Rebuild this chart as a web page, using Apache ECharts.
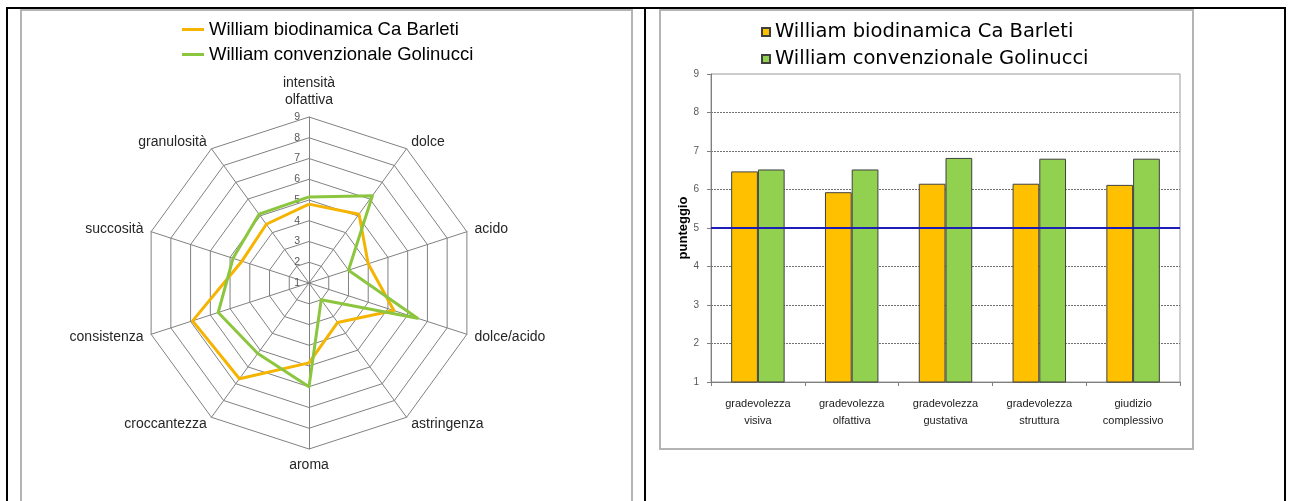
<!DOCTYPE html>
<html>
<head>
<meta charset="utf-8">
<script src="https://cdn.jsdelivr.net/npm/echarts@6/dist/echarts.min.js"></script>
<style>
html,body{margin:0;padding:0;background:#fff;}
#wrap{position:relative;width:1292px;height:501px;overflow:hidden;background:#fff;}
.ln{position:absolute;background:#000;}
.box{position:absolute;border:2px solid #B4B4B4;box-sizing:border-box;}
.chart{position:absolute;left:0;top:0;width:1292px;height:501px;}
</style>
</head>
<body>
<div id="wrap">
  <div class="box" style="left:20px;top:9px;width:613px;height:520px;"></div>
  <div class="box" style="left:659px;top:9px;width:535px;height:441px;"></div>
  <div class="ln" style="left:6px;top:7px;width:1280px;height:2px;"></div>
  <div class="ln" style="left:6px;top:7px;width:2px;height:494px;"></div>
  <div class="ln" style="left:644px;top:7px;width:2px;height:494px;"></div>
  <div class="ln" style="left:1284px;top:7px;width:2px;height:494px;"></div>
  <div id="left" class="chart"></div>
  <div id="right" class="chart"></div>
</div>
<script>
// ---- data ----
const seriesNames = ['William biodinamica Ca Barleti', 'William convenzionale Golinucci'];
const radarAxes = ['intensità\nolfattiva', 'dolce', 'acido', 'dolce/acido', 'astringenza', 'aroma', 'croccantezza', 'consistenza', 'succosità', 'granulosità'];
const radarBarleti = [4.8, 5.1, 4.0, 5.3, 3.35, 4.85, 6.7, 6.9, 4.4, 4.5];
const radarGolinucci = [5.15, 6.2, 3.0, 6.5, 2.0, 6.0, 5.2, 5.6, 4.85, 5.1];
const radarMin = 1, radarMax = 9;

const barCategories = ['gradevolezza\nvisiva', 'gradevolezza\nolfattiva', 'gradevolezza\ngustativa', 'gradevolezza\nstruttura', 'giudizio\ncomplessivo'];
const barBarleti = [6.47, 5.93, 6.15, 6.15, 6.12];
const barGolinucci = [6.52, 6.52, 6.82, 6.80, 6.80];
const threshold = 5;
const yTicks = [1, 2, 3, 4, 5, 6, 7, 8, 9];

const orangeLine = '#F5B400', greenLine = '#8CC63F';
const orangeBar = '#FFC000', greenBar = '#92D050';
const FONT = '"Liberation Sans", Arial, sans-serif';

// ECharts radar runs counter-clockwise; original runs clockwise from top
const order = [0].concat(radarAxes.map((_, i) => i).slice(1).reverse());

const leftChart = echarts.init(document.getElementById('left'));
leftChart.setOption({
  animation: false,
  legend: {
    orient: 'vertical', left: 177, top: 15, icon: 'rect',
    itemWidth: 22, itemHeight: 3, itemGap: 6,
    textStyle: { fontFamily: FONT, fontSize: 18.5, color: '#000' },
    data: seriesNames
  },
  radar: {
    center: [309, 283], radius: 166, startAngle: 90,
    splitNumber: 8, shape: 'polygon', nameGap: 8,
    axisName: { color: '#262626', fontSize: 14, fontFamily: FONT, lineHeight: 17 },
    splitLine: { lineStyle: { color: '#808080', width: 1 } },
    splitArea: { show: false },
    axisLine: { lineStyle: { color: '#808080', width: 1 } },
    axisTick: { show: false },
    axisLabel: { show: false },
    indicator: order.map((k, j) => ({
      name: radarAxes[k], min: radarMin, max: radarMax,
      axisLabel: { show: j === 0, fontSize: 10.5, color: '#595959', fontFamily: FONT, margin: 9 }
    }))
  },
  series: [{
    type: 'radar', symbol: 'none',
    data: [
      { name: seriesNames[0], value: order.map(k => radarBarleti[k]),
        lineStyle: { color: orangeLine, width: 3 }, itemStyle: { color: orangeLine } },
      { name: seriesNames[1], value: order.map(k => radarGolinucci[k]),
        lineStyle: { color: greenLine, width: 3 }, itemStyle: { color: greenLine } }
    ]
  }]
});

const rightChart = echarts.init(document.getElementById('right'));
rightChart.setOption({
  animation: false,
  legend: {
    orient: 'vertical', left: 756, top: 17, icon: 'rect',
    itemWidth: 8, itemHeight: 8, itemGap: 7,
    textStyle: { fontFamily: '"DejaVu Sans", sans-serif', fontSize: 19.5, color: '#000' },
    data: seriesNames
  },
  grid: {
    left: 711, top: 74, width: 469, height: 308,
    show: true, borderColor: '#9a9a9a', borderWidth: 1, backgroundColor: 'transparent'
  },
  xAxis: {
    type: 'category', data: barCategories,
    axisLine: { lineStyle: { color: '#7f7f7f' } },
    axisTick: { show: true, interval: 0, length: 4, lineStyle: { color: '#7f7f7f' } },
    axisLabel: { interval: 0, fontSize: 11, color: '#1a1a1a', fontFamily: FONT, lineHeight: 17, margin: 13 }
  },
  yAxis: {
    type: 'value', min: yTicks[0], max: yTicks[yTicks.length - 1], interval: 1,
    axisLine: { show: true, lineStyle: { color: '#7f7f7f' } },
    axisTick: { show: true, length: 4, lineStyle: { color: '#7f7f7f' } },
    axisLabel: { fontSize: 10, color: '#595959', fontFamily: FONT, margin: 12 },
    splitLine: { show: true, showMinLine: false, showMaxLine: false,
      lineStyle: { type: [2, 1], color: '#707070', width: 1 } },
    name: 'punteggio', nameLocation: 'middle', nameGap: 20,
    nameTextStyle: { fontWeight: 'bold', fontSize: 13, color: '#000', fontFamily: FONT }
  },
  series: [
    { name: seriesNames[0], type: 'bar', data: barBarleti, barGap: '0%', barCategoryGap: '43%',
      itemStyle: { color: orangeBar, borderColor: '#404040', borderWidth: 1 },
      markLine: { silent: true, symbol: ['none', 'none'], label: { show: false },
        lineStyle: { color: '#1C1CB8', width: 2, type: 'solid' },
        data: [{ yAxis: threshold }] } },
    { name: seriesNames[1], type: 'bar', data: barGolinucci, barGap: '0%', barCategoryGap: '43%',
      itemStyle: { color: greenBar, borderColor: '#404040', borderWidth: 1 } }
  ]
});
</script>
</body>
</html>
